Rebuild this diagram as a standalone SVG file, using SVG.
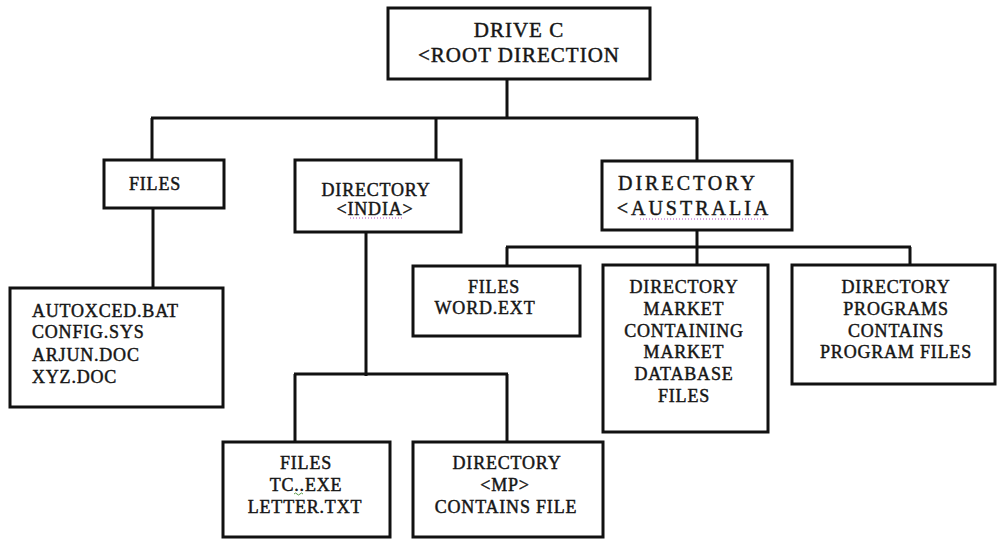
<svg xmlns="http://www.w3.org/2000/svg" width="998" height="539" viewBox="0 0 998 539">
  <style>
    .box { fill: #ffffff; stroke: #111111; stroke-width: 3; }
    .wire { fill: none; stroke: #111111; stroke-width: 3; }
    .t { font-family: "Liberation Serif", "Times New Roman", serif; font-size: 18px; fill: #161616; stroke: #161616; stroke-width: 0.45px; letter-spacing: 0.8px; }
    .c { text-anchor: middle; }
    .big { font-size: 20px; letter-spacing: 3px; }
    .root { font-size: 21px; letter-spacing: 1px; }
    .spell { fill: none; stroke: #b050c0; stroke-width: 1; stroke-dasharray: 1 2; }
    .gram { fill: none; stroke: #5a9a4a; stroke-width: 1; }
  </style>
  <rect width="998" height="539" fill="#ffffff"/>

  <g id="connectors">
    <path class="wire" d="M507,79 V118 M151,118 H698 M152,118 V160 M436,118 V160 M697,118 V161"/>
    <path class="wire" d="M153,208 V288"/>
    <path class="wire" d="M366,232 V376 M294,374 H508 M295,374 V442 M507,374 V442"/>
    <path class="wire" d="M697,230 V248 M506,247 H911 M507,247 V266 M697,247 V265 M910,247 V265"/>
  </g>

  <g id="drive-c">
    <rect class="box" x="388" y="8" width="262" height="71"/>
    <text class="t root c" x="519" y="37">DRIVE C</text>
    <text class="t root c" x="519" y="62">&lt;ROOT DIRECTION</text>
  </g>

  <g id="files-root">
    <rect class="box" x="104" y="160" width="120" height="48"/>
    <text class="t c" x="155" y="190">FILES</text>
  </g>

  <g id="dir-india">
    <rect class="box" x="295" y="160" width="166" height="72"/>
    <text class="t c" x="376" y="196">DIRECTORY</text>
    <text class="t c" x="375" y="215">&lt;INDIA&gt;</text>
    <line class="spell" x1="350" y1="218" x2="402" y2="218"/>
  </g>

  <g id="dir-australia">
    <rect class="box" x="602" y="161" width="190" height="69"/>
    <text class="t big c" x="688" y="190">DIRECTORY</text>
    <text class="t big c" x="694" y="215">&lt;AUSTRALIA</text>
    <line class="spell" x1="640" y1="219" x2="764" y2="219"/>
  </g>

  <g id="files-list">
    <rect class="box" x="10" y="288" width="213" height="119"/>
    <text class="t" x="32" y="317">AUTOXCED.BAT</text>
    <text class="t" x="32" y="338">CONFIG.SYS</text>
    <text class="t" x="32" y="361">ARJUN.DOC</text>
    <text class="t" x="32" y="383">XYZ.DOC</text>
  </g>

  <g id="files-word">
    <rect class="box" x="413" y="266" width="167" height="70"/>
    <text class="t c" x="494" y="293">FILES</text>
    <text class="t c" x="485" y="314">WORD.EXT</text>
  </g>

  <g id="dir-market">
    <rect class="box" x="603" y="265" width="165" height="167"/>
    <text class="t c" x="684" y="293">DIRECTORY</text>
    <text class="t c" x="684" y="315">MARKET</text>
    <text class="t c" x="684" y="337">CONTAINING</text>
    <text class="t c" x="684" y="358">MARKET</text>
    <text class="t c" x="684" y="380">DATABASE</text>
    <text class="t c" x="684" y="402">FILES</text>
  </g>

  <g id="dir-programs">
    <rect class="box" x="792" y="265" width="203" height="119"/>
    <text class="t c" x="896" y="293">DIRECTORY</text>
    <text class="t c" x="896" y="315">PROGRAMS</text>
    <text class="t c" x="896" y="337">CONTAINS</text>
    <text class="t c" x="896" y="358">PROGRAM FILES</text>
  </g>

  <g id="files-tc">
    <rect class="box" x="223" y="442" width="167" height="95"/>
    <text class="t c" x="306" y="469">FILES</text>
    <text class="t c" x="306" y="491">TC..EXE</text>
    <path class="gram" d="M294,494 q1.5,-2 3,0 t3,0 t3,0"/>
    <text class="t c" x="305" y="513">LETTER.TXT</text>
  </g>

  <g id="dir-mp">
    <rect class="box" x="413" y="442" width="190" height="95"/>
    <text class="t c" x="507" y="469">DIRECTORY</text>
    <text class="t c" x="505" y="491">&lt;MP&gt;</text>
    <text class="t c" x="506" y="513">CONTAINS FILE</text>
  </g>
</svg>
